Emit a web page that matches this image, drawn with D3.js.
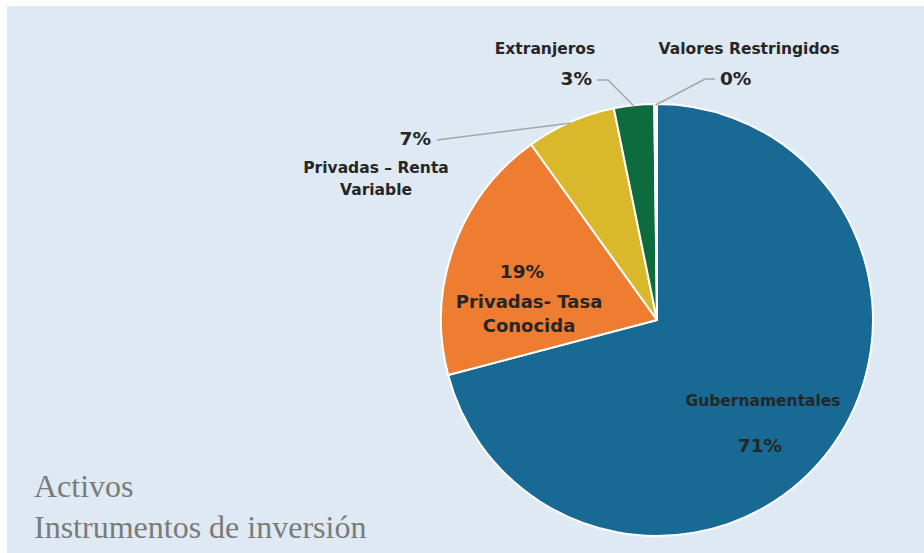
<!DOCTYPE html>
<html>
<head>
<meta charset="utf-8">
<script src="https://cdn.jsdelivr.net/npm/d3@7"></script>
<style>
  body { margin: 0; background: #fff; }
  svg { display: block; }
</style>
</head>
<body>
<div id="chart"></div>
<script>
// data
var categories = ["Gubernamentales", "Privadas- Tasa Conocida", "Privadas – Renta Variable", "Extranjeros", "Valores Restringidos"];
var values = [70.9, 19.2, 6.7, 3.0, 0.2];
var pctLabels = ["71%", "19%", "7%", "3%", "0%"];
var colors = ["#186994", "#ee7d31", "#d9b82b", "#0e6b3e", "#ffffff"];

// label placement, relative to the pie centre (layout only)
var nameLines = [["Gubernamentales"], ["Privadas- Tasa", "Conocida"], ["Privadas – Renta", "Variable"], ["Extranjeros"], ["Valores Restringidos"]];
var labelLayout = [
    {pct: [103, 132, "middle"], name: [106, 86, "middle"], nameSize: 15.5, lh: 0},
    {pct: [-135, -42, "middle"], name: [-128, -12, "middle"], nameSize: 18, lh: 24},
    {pct: [-226, -175, "end"], name: [-281, -147, "middle"], nameSize: 15.5, lh: 22, leader: [[-220, -180]]},
    {pct: [-65, -235, "end"], name: [-112, -266, "middle"], nameSize: 15.5, lh: 0, leader: [[-49, -240], [-60, -240]]},
    {pct: [63, -235, "start"], name: [92, -266, "middle"], nameSize: 15.5, lh: 0, leader: [[48, -241], [58, -241]]}
];

var width = 924, height = 553;
var cx = 657, cy = 320, radius = 216;

var svg = d3.select("#chart").append("svg")
    .attr("width", width)
    .attr("height", height);

// panel background
svg.append("rect")
    .attr("x", 7).attr("y", 6)
    .attr("width", width - 7).attr("height", height - 6)
    .attr("fill", "#dee9f3");

var g = svg.append("g")
    .attr("transform", "translate(" + cx + "," + cy + ")");

var pie = d3.pie().sort(null).value(function(d) { return d; });
var arcs = pie(values);

var arc = d3.arc().innerRadius(0).outerRadius(radius);
var edgeArc = d3.arc().innerRadius(radius - 1).outerRadius(radius - 1);

g.selectAll("path.slice")
    .data(arcs)
    .enter().append("path")
    .attr("class", "slice")
    .attr("d", arc)
    .attr("fill", function(d, i) { return colors[i]; })
    .attr("stroke", "#ffffff")
    .attr("stroke-width", 2)
    .attr("stroke-linejoin", "round");

// leader lines
var line = d3.line();
arcs.forEach(function(d, i) {
    var lay = labelLayout[i];
    if (!lay.leader) return;
    var pts = [edgeArc.centroid(d)].concat(lay.leader);
    g.append("path")
        .attr("d", line(pts))
        .attr("fill", "none")
        .attr("stroke", "#a6a6a6")
        .attr("stroke-width", 1.5);
});

// labels
arcs.forEach(function(d, i) {
    var lay = labelLayout[i];
    g.append("text")
        .attr("x", lay.pct[0])
        .attr("y", lay.pct[1])
        .attr("text-anchor", lay.pct[2])
        .attr("font-family", "DejaVu Sans, Verdana, sans-serif")
        .attr("font-weight", "bold")
        .attr("font-size", 18.5)
        .attr("fill", "#262626")
        .text(pctLabels[i]);

    var t = g.append("text")
        .attr("text-anchor", lay.name[2])
        .attr("font-family", "DejaVu Sans, Verdana, sans-serif")
        .attr("font-weight", "bold")
        .attr("font-size", lay.nameSize)
        .attr("fill", "#262626");
    nameLines[i].forEach(function(s, k) {
        t.append("tspan")
            .attr("x", lay.name[0])
            .attr("y", lay.name[1] + k * lay.lh)
            .text(s);
    });
});

// titles bottom left
var titles = ["Activos", "Instrumentos de inversión"];
svg.selectAll("text.title")
    .data(titles)
    .enter().append("text")
    .attr("class", "title")
    .attr("x", 34)
    .attr("y", function(d, i) { return 497 + i * 41; })
    .attr("font-family", "Liberation Serif, serif")
    .attr("font-size", 32)
    .attr("fill", "#7a7a7a")
    .text(function(d) { return d; });
</script>
</body>
</html>
